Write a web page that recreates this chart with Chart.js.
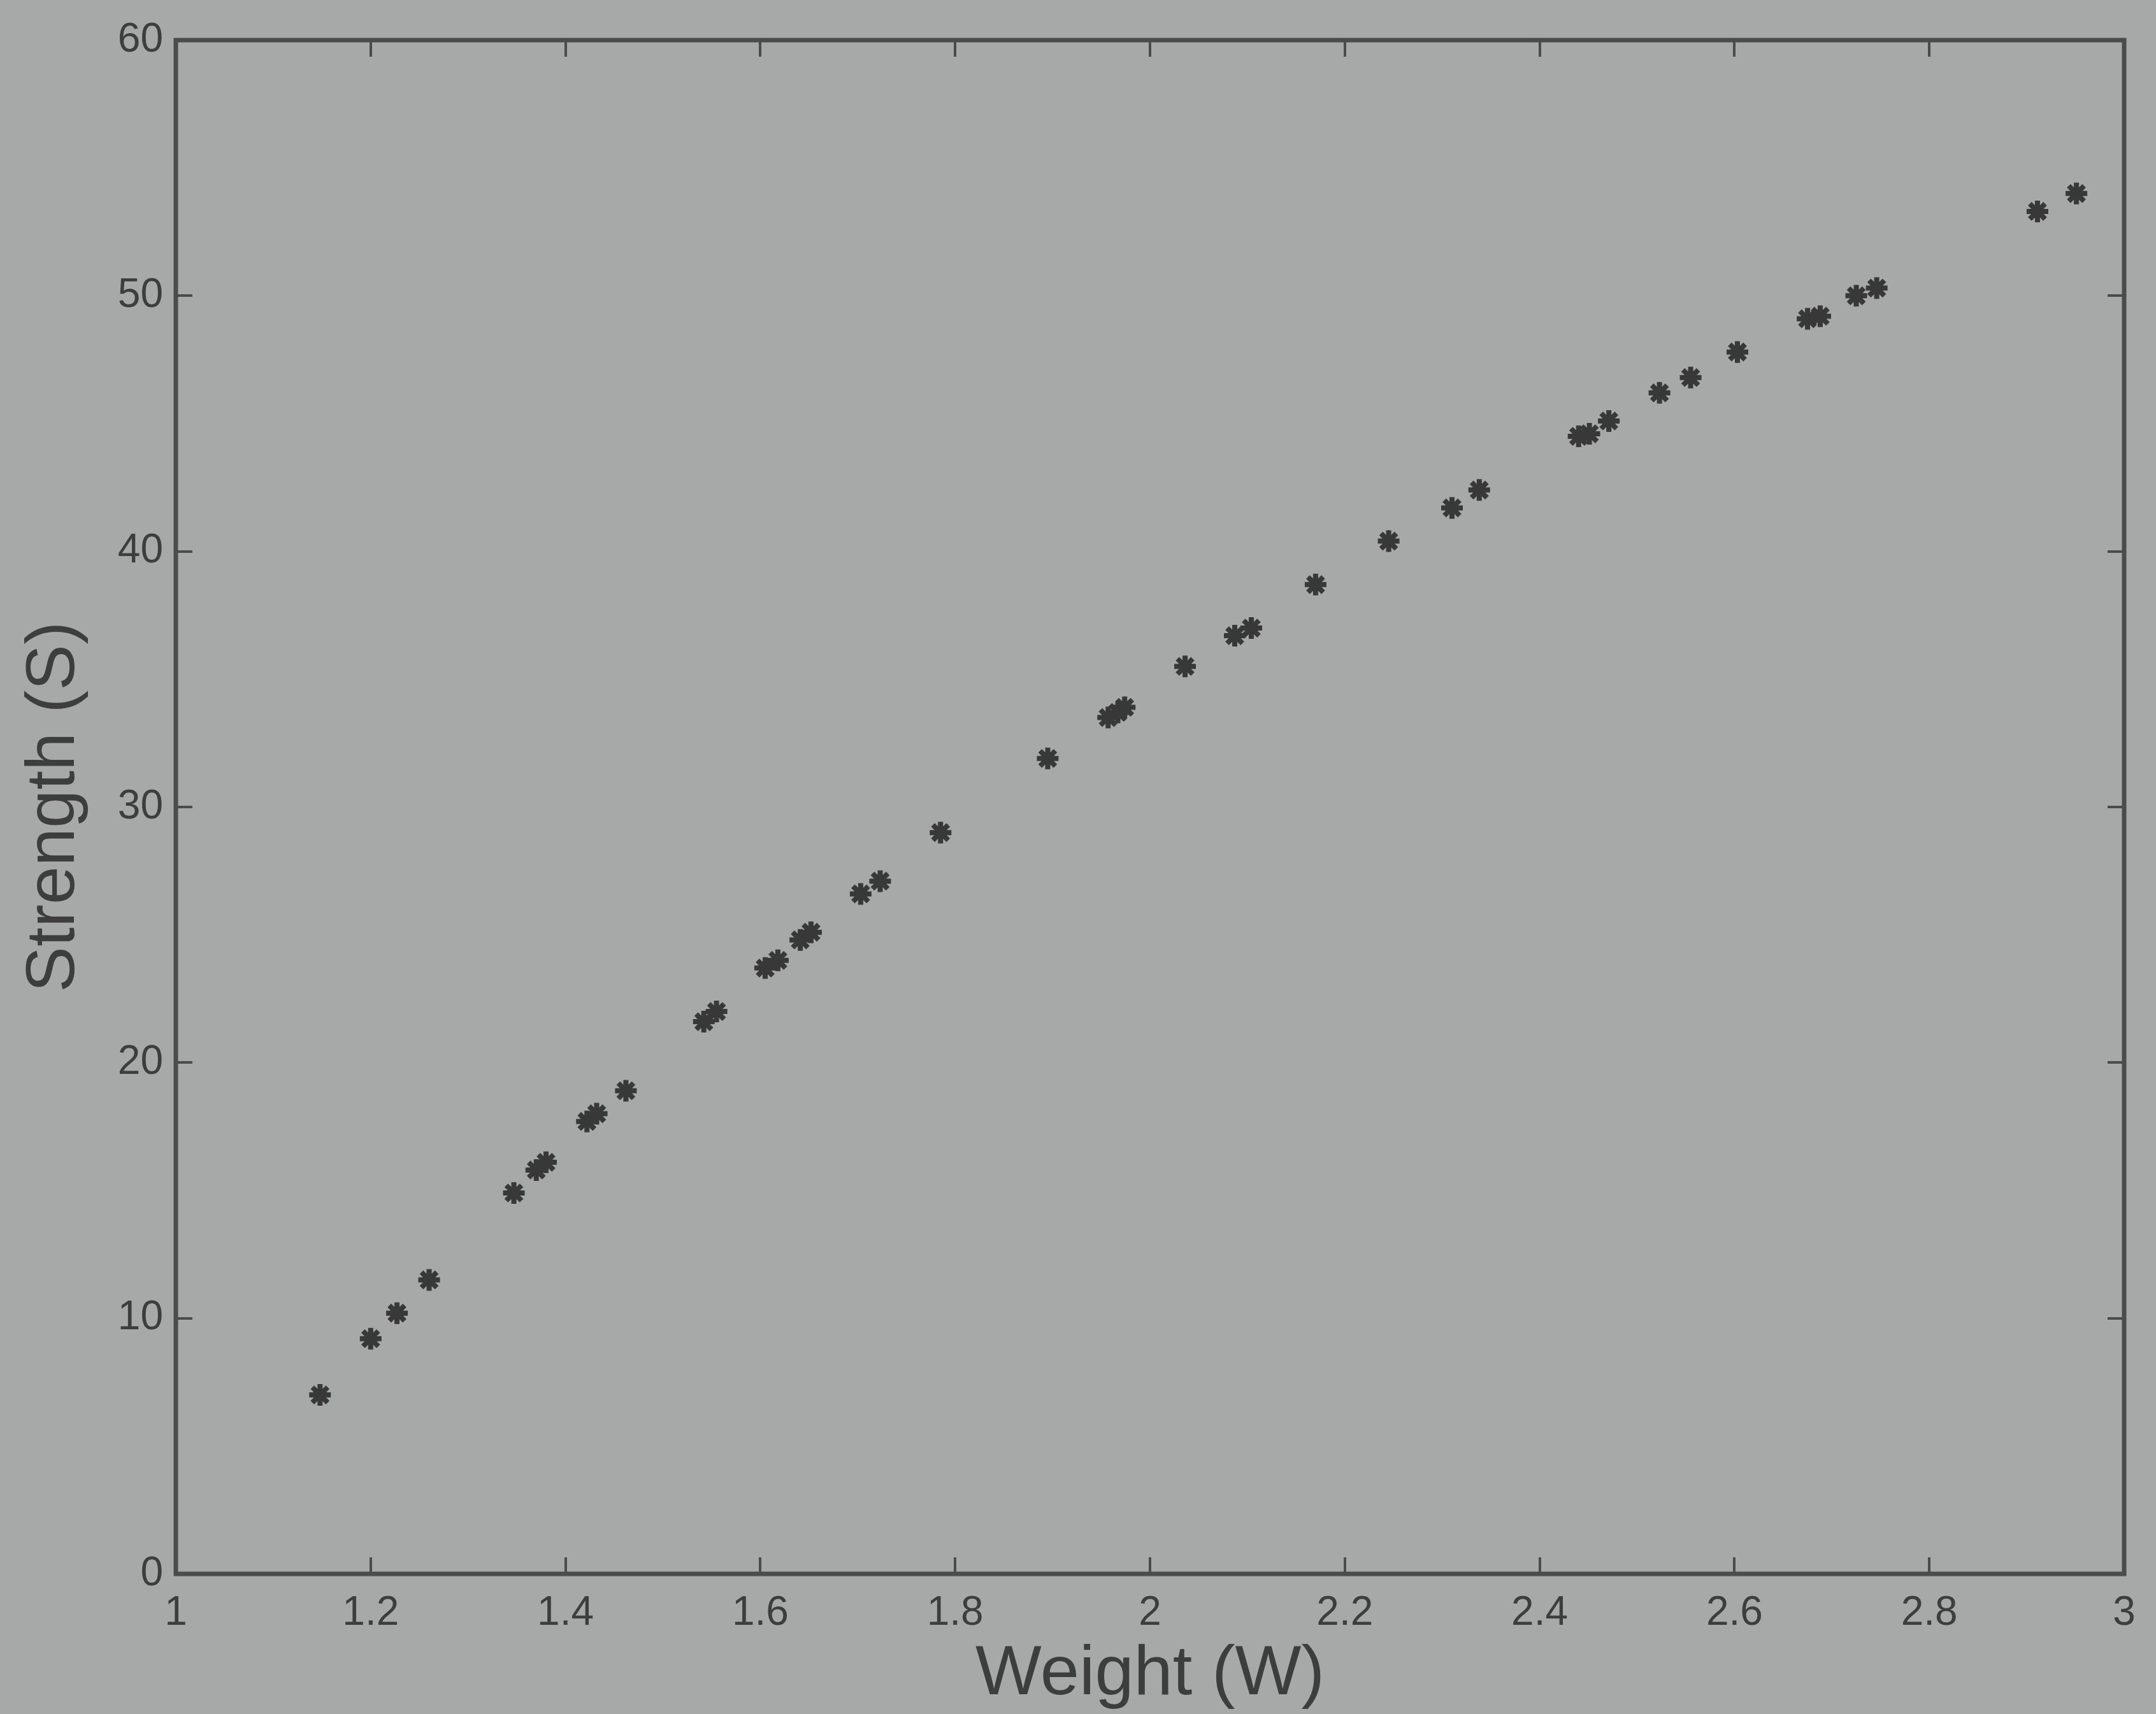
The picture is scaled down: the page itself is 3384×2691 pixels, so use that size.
<!DOCTYPE html>
<html>
<head>
<meta charset="utf-8">
<script src="https://cdn.jsdelivr.net/npm/chart.js@4.4.1/dist/chart.umd.min.js"></script>
<style>
  html, body { margin: 0; padding: 0; background: #a7a9a8; }
  #wrap { width: 3384px; height: 2691px; }
</style>
</head>
<body>
<div id="wrap"><canvas id="plot" width="3384" height="2691"></canvas></div>
<script>
// Weight (W) vs Strength (S)
const weight = [1.148, 1.200, 1.227, 1.260, 1.347, 1.370, 1.380, 1.422, 1.432, 1.462,
  1.542, 1.555, 1.605, 1.618, 1.641, 1.652, 1.703, 1.723, 1.785, 1.895,
  1.957, 1.967, 1.974, 2.036, 2.087, 2.104, 2.170, 2.245, 2.310, 2.338,
  2.440, 2.451, 2.471, 2.523, 2.555, 2.603, 2.675, 2.688, 2.725, 2.746,
  2.911, 2.951];
const strength = [7.0, 9.2, 10.2, 11.5, 14.9, 15.8, 16.1, 17.7, 18.0, 18.9,
  21.6, 22.0, 23.7, 24.0, 24.8, 25.1, 26.6, 27.1, 29.0, 31.9,
  33.5, 33.7, 33.9, 35.5, 36.7, 37.0, 38.7, 40.4, 41.7, 42.4,
  44.5, 44.6, 45.1, 46.2, 46.8, 47.8, 49.1, 49.2, 50.0, 50.3,
  53.3, 54.0];
const xTickLabels = ['1', '1.2', '1.4', '1.6', '1.8', '2', '2.2', '2.4', '2.6', '2.8', '3'];
const yTickLabels = ['0', '10', '20', '30', '40', '50', '60'];

const ink = '#4b4b4b';
const fontFamily = "'Liberation Sans', Arial, Helvetica, sans-serif";

// MATLAB style box with inward ticks on all four sides
const boxPlugin = {
    id: 'box',
    afterDraw(chart) {
        const {ctx, chartArea: a, scales} = chart;
        ctx.save();
        ctx.strokeStyle = ink;
        ctx.lineWidth = 4;
        const len = 26;
        scales.x.ticks.forEach(t => {
            const px = Math.round(scales.x.getPixelForValue(t.value));
            ctx.beginPath();
            ctx.moveTo(px, a.bottom); ctx.lineTo(px, a.bottom - len);
            ctx.moveTo(px, a.top); ctx.lineTo(px, a.top + len);
            ctx.stroke();
        });
        scales.y.ticks.forEach(t => {
            const py = Math.round(scales.y.getPixelForValue(t.value));
            ctx.beginPath();
            ctx.moveTo(a.left, py); ctx.lineTo(a.left + len, py);
            ctx.moveTo(a.right, py); ctx.lineTo(a.right - len, py);
            ctx.stroke();
        });
        ctx.lineWidth = 7;
        ctx.strokeRect(a.left, a.top, a.right - a.left, a.bottom - a.top);
        ctx.restore();
    }
};

const points = weight.map((w, i) => ({x: w, y: strength[i]}));

new Chart(document.getElementById('plot').getContext('2d'), {
    type: 'scatter',
    data: {
        datasets: [{
            data: points,
            pointStyle: 'star',
            pointRadius: 17,
            pointBorderWidth: 8,
            borderColor: '#383838',
            backgroundColor: '#383838'
        }]
    },
    options: {
        responsive: false,
        animation: false,
        devicePixelRatio: 1,
        layout: { padding: { top: 63, right: 50, left: 0, bottom: 0 } },
        plugins: { legend: { display: false }, tooltip: { enabled: false } },
        scales: {
            x: {
                type: 'linear',
                min: 1, max: 3,
                afterFit: s => { s.height = 220; },
                grid: { display: false, drawTicks: false },
                border: { display: false },
                ticks: {
                    stepSize: 0.2,
                    padding: 24,
                    color: '#3d3d3d',
                    font: { family: fontFamily, size: 64 },
                    callback: (v, i) => xTickLabels[i]
                },
                title: {
                    display: true,
                    text: 'Weight (W)',
                    color: '#3d3d3d',
                    font: { family: fontFamily, size: 110, lineHeight: 1 },
                    padding: { top: 0, bottom: 6 }
                }
            },
            y: {
                type: 'linear',
                min: 0, max: 60,
                afterFit: s => { s.width = 276; },
                grid: { display: false, drawTicks: false },
                border: { display: false },
                ticks: {
                    stepSize: 10,
                    padding: 20,
                    color: '#3d3d3d',
                    font: { family: fontFamily, size: 64 },
                    callback: (v, i) => yTickLabels[i]
                },
                title: {
                    display: true,
                    text: 'Strength (S)',
                    color: '#3d3d3d',
                    font: { family: fontFamily, size: 108, lineHeight: 1 },
                    padding: { top: 32, bottom: 0 }
                }
            }
        }
    },
    plugins: [boxPlugin]
});
</script>
</body>
</html>
